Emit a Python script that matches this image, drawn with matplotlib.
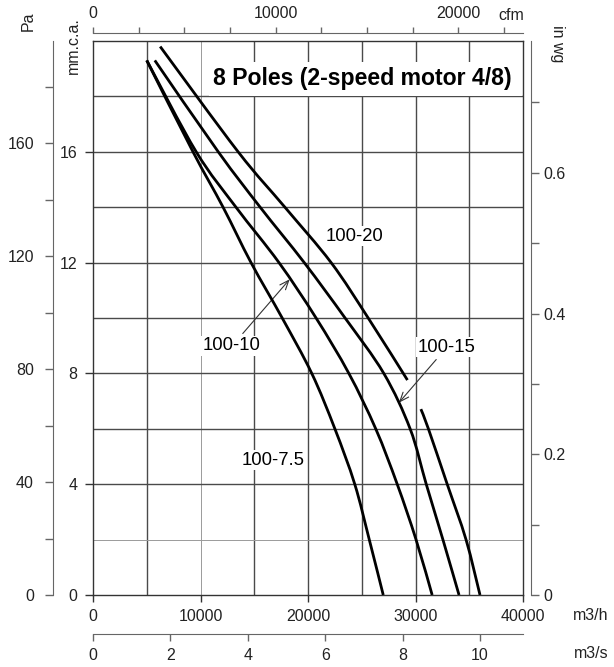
import numpy as np
import matplotlib
matplotlib.use("Agg")
import matplotlib.pyplot as plt
from matplotlib.path import Path
from matplotlib.patches import PathPatch

plt.rcParams['font.family'] = ['Liberation Sans', 'DejaVu Sans']

# fan curves, static pressure (mm.c.a.) vs air flow (m3/h)
press_std = [19.3, 16, 14, 12, 10, 8, 6, 4, 2, 0]
flow_75 = [5000, 9300, 12100, 14700, 17600, 20350, 22500, 24350, 25700, 27000]
flow_10 = [5000, 9600, 13300, 17300, 20750, 23800, 26300, 28300, 30050, 31550]
flow_15 = [5750, 11650, 15550, 19650, 23450, 27050, 29500, 31000, 32550, 34050]

# 100-20 is drawn in two pieces (gap for the 100-15 leader)
flow_20_top = [6250, 13500, 17850, 22150, 25600, 29250]
press_20_top = [19.8, 16, 14, 12, 10, 7.76]
flow_20_bot = [30500, 31200, 32950, 34700, 36000]
press_20_bot = [6.71, 6, 4, 2, 0]

curve_labels = ["100-7.5", "100-10", "100-15", "100-20"]
title = "8 Poles (2-speed motor 4/8)"

# axis ranges / ticks
x_max = 40000
y_max = 20
x_ticks = [0, 10000, 20000, 30000, 40000]
y_ticks = [0, 4, 8, 12, 16]
grid_x = [5000, 10000, 15000, 20000, 25000, 30000, 35000]
grid_y = [2, 4, 6, 8, 10, 12, 14, 16, 18]
pa_ticks = [0, 20, 40, 60, 80, 100, 120, 140, 160, 180]
pa_labels = [0, 40, 80, 120, 160]
inwg_ticks = [0, 0.1, 0.2, 0.3, 0.4, 0.5, 0.6, 0.7]
inwg_labels = [0, 0.2, 0.4, 0.6]
cfm_ticks = [0, 2500, 5000, 7500, 10000, 12500, 15000, 17500, 20000, 22500]
cfm_labels = [0, 10000, 20000]
m3s_ticks = [0, 2, 4, 6, 8, 10]

MM_TO_PA = 9.80665
MM_TO_INWG = 1 / 25.4
CFM_TO_M3H = 1.699
M3S_TO_M3H = 3600


def smooth_path(xs, ys):
    """Cubic path through the given points (Catmull-Rom tangents)."""
    p = np.column_stack([xs, ys]).astype(float)
    n = len(p)
    verts = [p[0]]
    codes = [Path.MOVETO]
    for i in range(n - 1):
        p0 = p[i - 1] if i > 0 else p[i]
        p3 = p[i + 2] if i + 2 < n else p[i + 1]
        c1 = p[i] + (p[i + 1] - p0) / 6
        c2 = p[i + 1] - (p3 - p[i]) / 6
        verts += [c1, c2, p[i + 1]]
        codes += [Path.CURVE4] * 3
    return Path(verts, codes)


W, H = 614, 667
fig = plt.figure(figsize=(W / 100, H / 100), dpi=100)
L, R, T, B = 93, 523, 41, 595
ax = fig.add_axes([L / W, 1 - B / H, (R - L) / W, (B - T) / H])
ax.set_xlim(0, x_max)
ax.set_ylim(0, y_max)

px = 0.72  # points per pixel at 100 dpi
tick_col = '#222222'
fs = 11.5

for gx in grid_x:
    light = gx == 10000
    ax.axvline(gx, color='#9a9a9a' if light else '#4a4a4a', lw=0.7 if light else 1.0, zorder=1)
for gy in grid_y:
    light = gy == 2
    ax.axhline(gy, color='#9a9a9a' if light else '#4a4a4a', lw=0.7 if light else 1.0, zorder=1)

for s in ax.spines.values():
    s.set_color('#333333')
    s.set_linewidth(1.0)

ax.set_xticks(x_ticks)
ax.set_yticks(y_ticks)
ax.tick_params(axis='x', direction='out', length=7 * px, width=1, color='#333333',
               labelsize=fs, labelcolor=tick_col, pad=5)
ax.tick_params(axis='y', direction='out', length=8 * px, width=1, color='#333333',
               labelsize=fs, labelcolor=tick_col, pad=5.5)

# curves
lw = 2.0
for xs, ys in [(flow_75, press_std), (flow_10, press_std), (flow_15, press_std),
               (flow_20_top, press_20_top), (flow_20_bot, press_20_bot)]:
    ax.add_patch(PathPatch(smooth_path(xs, ys), fill=False, edgecolor='black', lw=lw,
                           capstyle='butt', zorder=4))

# title box
ax.add_patch(plt.Rectangle((10800, 18.0), 39950 - 10800, 1.25, facecolor='white',
                           edgecolor='none', zorder=2))
ax.text(11150, 18.42, title, fontsize=16.6, fontweight='bold', ha='left', va='baseline',
        zorder=5)

lab_fs = 13.3
box = dict(boxstyle='square,pad=0.1', fc='white', ec='none')
ax.text(24280, 12.96, curve_labels[3], fontsize=lab_fs, ha='center', va='center',
        bbox=box, zorder=3)
ax.text(16740, 4.87, curve_labels[0], fontsize=lab_fs, ha='center', va='center',
        bbox=box, zorder=3)
ax.annotate(curve_labels[1], xy=(18300, 11.40), xytext=(12930, 8.99),
            fontsize=lab_fs, ha='center', va='center', bbox=box, zorder=3,
            arrowprops=dict(arrowstyle='->,head_length=0.5,head_width=0.2', lw=0.8,
                            color='#333333', shrinkA=2, shrinkB=0))
ax.annotate(curve_labels[2], xy=(28450, 6.94), xytext=(32930, 8.95),
            fontsize=lab_fs, ha='center', va='center', bbox=box, zorder=3,
            arrowprops=dict(arrowstyle='->,head_length=0.5,head_width=0.2', lw=0.8,
                            color='#333333', shrinkA=2, shrinkB=0))

aux_col = '#666666'

# Pa axis (outer left)
ax_pa = ax.twinx()
ax_pa.set_ylim(0, y_max * MM_TO_PA)
ax_pa.yaxis.set_ticks_position('left')
for k in ['top', 'bottom', 'right']:
    ax_pa.spines[k].set_visible(False)
ax_pa.spines['left'].set_position(('outward', 40 * px))
ax_pa.spines['left'].set_color(aux_col)
ax_pa.set_yticks(pa_ticks)
ax_pa.set_yticklabels([str(t) if t in pa_labels else '' for t in pa_ticks])
ax_pa.tick_params(axis='y', direction='out', length=8 * px, width=1, color=aux_col,
                  labelsize=fs, labelcolor=tick_col, pad=8)

# in wg axis (right)
ax_in = ax.twinx()
ax_in.set_ylim(0, y_max * MM_TO_INWG)
for k in ['top', 'bottom', 'left']:
    ax_in.spines[k].set_visible(False)
ax_in.spines['right'].set_position(('outward', 8 * px))
ax_in.spines['right'].set_color(aux_col)
ax_in.set_yticks(inwg_ticks)
ax_in.set_yticklabels([('%g' % t) if t in inwg_labels else '' for t in inwg_ticks])
ax_in.tick_params(axis='y', direction='out', length=8 * px, width=1, color=aux_col,
                  labelsize=fs, labelcolor=tick_col, pad=3)

# cfm axis (top)
ax_cfm = ax.twiny()
ax_cfm.set_xlim(0, x_max / CFM_TO_M3H)
for k in ['bottom', 'left', 'right']:
    ax_cfm.spines[k].set_visible(False)
ax_cfm.spines['top'].set_position(('outward', 8 * px))
ax_cfm.spines['top'].set_color(aux_col)
ax_cfm.set_xticks(cfm_ticks)
ax_cfm.set_xticklabels([str(t) if t in cfm_labels else '' for t in cfm_ticks])
ax_cfm.tick_params(axis='x', direction='out', length=6 * px, width=1, color=aux_col,
                   labelsize=fs, labelcolor=tick_col, pad=4)

# m3/s axis (bottom)
ax_s = ax.twiny()
ax_s.set_xlim(0, x_max / M3S_TO_M3H)
ax_s.xaxis.set_ticks_position('bottom')
ax_s.xaxis.set_label_position('bottom')
for k in ['top', 'left', 'right']:
    ax_s.spines[k].set_visible(False)
ax_s.spines['bottom'].set_position(('outward', 39 * px))
ax_s.spines['bottom'].set_color(aux_col)
ax_s.set_xticks(m3s_ticks)
ax_s.tick_params(axis='x', direction='out', length=7 * px, width=1, color=aux_col,
                 labelsize=fs, labelcolor=tick_col, pad=5)

# unit labels
def ftext(x, y, s, **kw):
    fig.text(x / W, 1 - y / H, s, fontsize=fs, color=tick_col, ha='center', va='center', **kw)

ftext(28, 21, "Pa", rotation=90)
ftext(73, 46, "mm.c.a.", rotation=90)
ftext(557, 44, "in wg", rotation=-90)
ftext(511, 16, "cfm")
ftext(591, 615, "m3/h")
ftext(591, 654, "m3/s")

fig.savefig("out.png", dpi=100)
